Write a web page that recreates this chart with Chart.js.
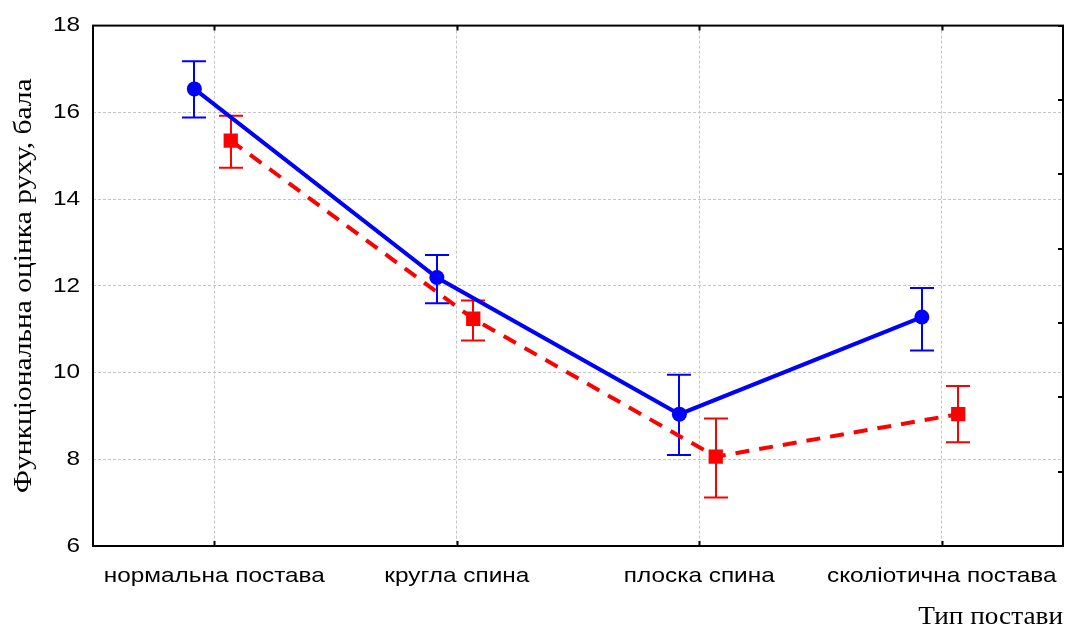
<!DOCTYPE html>
<html>
<head>
<meta charset="utf-8">
<script src="https://cdn.jsdelivr.net/npm/chart.js@4/dist/chart.umd.min.js"></script>
<style>
  html, body { margin: 0; padding: 0; background: #fff; }
  #wrap { width: 1065px; height: 630px; }
</style>
</head>
<body>
<div id="wrap"><canvas id="c" width="1065" height="630"></canvas></div>
<script>
// Posture types on the horizontal axis
const categories = ['нормальна постава', 'кругла спина', 'плоска спина', 'сколіотична постава'];

// Group 1 (blue, solid): mean score and error-bar bounds
const group1Mean = [16.54, 12.19, 9.04, 11.28];
const group1Low  = [15.88, 11.60, 8.10, 10.51];
const group1High = [17.18, 12.71, 9.95, 11.95];

// Group 2 (red, dashed): mean score and error-bar bounds
const group2Mean = [15.35, 11.24, 8.06, 9.04];
const group2Low  = [14.72, 10.74, 7.12, 8.39];
const group2High = [15.92, 11.66, 8.94, 9.69];

const yTicks = [6, 8, 10, 12, 14, 16, 18];
const yTitle = 'Функціональна оцінка руху, бала';
const xTitle = 'Тип постави';

// Horizontal shift of each group around its category
const DODGE_1 = -0.082;
const DODGE_2 = 0.068;

const toPoints = (vals, shift) => vals.map((v, i) => ({ x: i + shift, y: v }));

const BLUE = '#0000ff';
const RED = '#ff0000';
const GRID = '#c4c4c4';

const canvas = document.getElementById('c');
const ctx2d = canvas.getContext('2d');

// Wide-set lettering: every label is stretched along its own baseline
// around its anchor point, so alignment (left/center/right) is preserved.
const STRETCH_SANS = 1.16;
const STRETCH_SERIF = 1.09;
const STRETCH_ROTATED = 1.18;
const nativeFillText = CanvasRenderingContext2D.prototype.fillText;
ctx2d.fillText = function (text, x, y, maxWidth) {
  const m = this.getTransform();
  const rotated = Math.abs(m.b) > 1e-6;
  const serif = this.font.indexOf('Serif') !== -1;
  const k = rotated ? STRETCH_ROTATED : (serif ? STRETCH_SERIF : STRETCH_SANS);
  this.save();
  this.translate(x, y);
  this.scale(k, 1);
  if (maxWidth === undefined || maxWidth === null) {
    nativeFillText.call(this, text, 0, 0);
  } else {
    nativeFillText.call(this, text, 0, 0, maxWidth / k);
  }
  this.restore();
};

// Vertical error bars with caps, drawn beneath lines and markers
const errorBars = {
  id: 'errorBars',
  beforeDatasetsDraw(chart) {
    const { ctx } = chart;
    const xs = chart.scales.x, ys = chart.scales.y;
    chart.data.datasets.forEach((ds) => {
      ctx.save();
      ctx.strokeStyle = ds.borderColor;
      ctx.lineWidth = 2;
      ds.errLow.forEach((lo, i) => {
        const px = Math.round(xs.getPixelForValue(ds.data[i].x));
        const yLo = ys.getPixelForValue(lo);
        const yHi = ys.getPixelForValue(ds.errHigh[i]);
        const cap = 12;
        ctx.beginPath();
        ctx.moveTo(px, yLo); ctx.lineTo(px, yHi);
        ctx.moveTo(px - cap, yLo); ctx.lineTo(px + cap, yLo);
        ctx.moveTo(px - cap, yHi); ctx.lineTo(px + cap, yHi);
        ctx.stroke();
      });
      ctx.restore();
    });
  }
};

// Frame around the plot plus small inward tick marks
const frame = {
  id: 'frame',
  afterDatasetsDraw(chart) {
    const { ctx, chartArea: a } = chart;
    const xs = chart.scales.x, y2 = chart.scales.y2;
    ctx.save();
    ctx.strokeStyle = '#000';
    ctx.lineWidth = 2;
    ctx.beginPath();
    xs.ticks.forEach((t) => {
      const px = Math.round(xs.getPixelForValue(t.value)) + 0.5;
      ctx.moveTo(px, a.bottom); ctx.lineTo(px, a.bottom - 5);
      ctx.moveTo(px, a.top); ctx.lineTo(px, a.top + 5);
    });
    y2.ticks.forEach((t) => {
      const py = Math.round(y2.getPixelForValue(t.value));
      ctx.moveTo(a.right, py); ctx.lineTo(a.right - 5, py);
    });
    ctx.stroke();
    ctx.strokeRect(a.left, a.top, a.right - a.left, a.bottom - a.top);
    ctx.restore();
  }
};

Chart.defaults.color = '#000';

new Chart(canvas, {
  type: 'line',
  data: {
    datasets: [
      {
        data: toPoints(group1Mean, DODGE_1),
        errLow: group1Low,
        errHigh: group1High,
        borderColor: BLUE,
        backgroundColor: BLUE,
        borderWidth: 4,
        tension: 0,
        pointStyle: 'circle',
        pointRadius: 7.5,
        pointBorderWidth: 0,
        pointBackgroundColor: BLUE
      },
      {
        data: toPoints(group2Mean, DODGE_2),
        errLow: group2Low,
        errHigh: group2High,
        borderColor: RED,
        backgroundColor: RED,
        borderWidth: 4,
        borderDash: [14, 10],
        tension: 0,
        pointStyle: 'rect',
        pointRadius: 10.1,
        pointBorderWidth: 0,
        pointBackgroundColor: RED
      }
    ]
  },
  options: {
    responsive: false,
    animation: false,
    devicePixelRatio: 1,
    layout: { autoPadding: false, padding: { top: 23, right: 2, left: 0, bottom: 0 } },
    plugins: { legend: { display: false }, tooltip: { enabled: false } },
    scales: {
      x: {
        type: 'linear',
        min: -0.5,
        max: 3.5,
        afterBuildTicks: (s) => { s.ticks = categories.map((_, i) => ({ value: i })); },
        afterFit: (s) => { s.height = 84; s.paddingLeft = 0; s.paddingRight = 0; },
        grid: { color: GRID, lineWidth: 1, drawTicks: false },
        border: { display: false, dash: [3, 2] },
        ticks: {
          autoSkip: false,
          maxRotation: 0,
          padding: 18,
          font: { family: 'Liberation Sans', size: 21 },
          callback: (v) => categories[v]
        },
        title: {
          display: true,
          text: xTitle,
          align: 'end',
          font: { family: 'Liberation Serif', size: 25, lineHeight: 1 },
          padding: { top: 0, bottom: 0 }
        }
      },
      y: {
        min: 6,
        max: 18,
        afterBuildTicks: (s) => { s.ticks = yTicks.map((v) => ({ value: v })); },
        afterFit: (s) => { s.width = 93; },
        grid: { color: GRID, lineWidth: 1, drawTicks: false },
        border: { display: false, dash: [3, 2] },
        ticks: {
          padding: 13,
          font: { family: 'Liberation Sans', size: 21 }
        },
        title: {
          display: true,
          text: yTitle,
          font: { family: 'Liberation Serif', size: 25, lineHeight: 1 },
          padding: { top: 12, bottom: 0 }
        }
      },
      y2: {
        display: false,
        position: 'right',
        min: 0,
        max: 7,
        ticks: { stepSize: 1 }
      }
    }
  },
  plugins: [errorBars, frame]
});
</script>
</body>
</html>
